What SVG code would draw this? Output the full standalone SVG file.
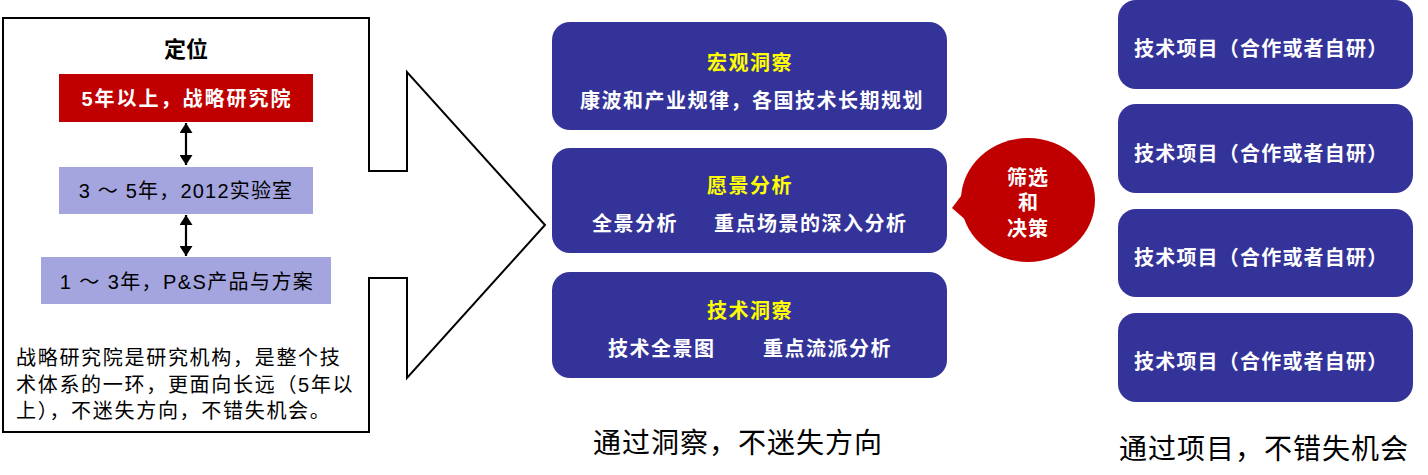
<svg xmlns="http://www.w3.org/2000/svg" width="1428" height="475" viewBox="0 0 1428 475">
<defs>
<style>
.t{font-family:"Liberation Sans","Noto Sans CJK SC",sans-serif;}
.box{fill:#333399;}
.ttl{fill:#FFFF00;font-size:20px;font-weight:bold;letter-spacing:1.5px;}
.sub{fill:#FFFFFF;font-size:20px;font-weight:bold;letter-spacing:1.5px;}
.rt{fill:#FFFFFF;font-size:20px;font-weight:bold;letter-spacing:1.2px;}
.cap{fill:#000000;font-size:28px;letter-spacing:1px;}
.lav{fill:#A4A4DF;}
</style>
<marker id="ah" viewBox="0 0 10 13" refX="10" refY="6.5" markerWidth="10" markerHeight="13" markerUnits="userSpaceOnUse" orient="auto-start-reverse">
<path d="M0,0 L10,6.5 L0,13 Z" fill="#000"/>
</marker>
</defs>

<g id="panel-left">
<path d="M3,18 H369 V171 H407 V72 L545,225 L407,378 V278 H369 V432 H3 Z" fill="#FFFFFF" stroke="#000000" stroke-width="2"/>
<text class="t" x="186" y="57" text-anchor="middle" font-size="22" font-weight="bold" fill="#000">定位</text>
</g>

<g id="node-5y">
<rect x="59" y="74" width="254" height="48" fill="#C00000"/>
<text class="t" x="187" y="105.6" text-anchor="middle" font-size="20" font-weight="bold" letter-spacing="2" fill="#FFFFFF">5年以上，战略研究院</text>
</g>
<g id="node-3-5y">
<rect class="lav" x="59" y="167" width="254" height="47"/>
<text class="t" x="186" y="197.6" text-anchor="middle" font-size="20" letter-spacing="1.2" fill="#000">3 ～ 5年，2012实验室</text>
</g>
<g id="node-1-3y">
<rect class="lav" x="41" y="257" width="290" height="47"/>
<text class="t" x="187" y="288.6" text-anchor="middle" font-size="20" letter-spacing="1.4" fill="#000">1 ～ 3年，P&amp;S产品与方案</text>
</g>
<g id="note">
<text class="t" font-size="20" letter-spacing="1.7" fill="#000">
<tspan x="16" y="365">战略研究院是研究机构，是整个技</tspan>
<tspan x="16" y="391.5">术体系的一环，更面向长远（5年以</tspan>
<tspan x="16" y="418">上），不迷失方向，不错失机会。</tspan>
</text>
</g>

<g id="connectors">
<line x1="186" y1="123" x2="186" y2="165" stroke="#000" stroke-width="2.2" marker-start="url(#ah)" marker-end="url(#ah)"/>
<line x1="186" y1="215" x2="186" y2="256" stroke="#000" stroke-width="2.2" marker-start="url(#ah)" marker-end="url(#ah)"/>
</g>

<g id="node-macro">
<rect class="box" x="552" y="22" width="395" height="108" rx="18"/>
<text class="t ttl" x="750" y="69.6" text-anchor="middle">宏观洞察</text>
<text class="t sub" x="752" y="107.6" text-anchor="middle" letter-spacing="2">康波和产业规律，各国技术长期规划</text>
</g>
<g id="node-vision">
<rect class="box" x="552" y="148" width="395" height="105" rx="18"/>
<text class="t ttl" x="750" y="192.6" text-anchor="middle">愿景分析</text>
<text class="t sub" x="592" y="230.6">全景分析</text>
<text class="t sub" x="714" y="230.6">重点场景的深入分析</text>
</g>
<g id="node-tech">
<rect class="box" x="552" y="272" width="395" height="106" rx="18"/>
<text class="t ttl" x="750" y="317.6" text-anchor="middle">技术洞察</text>
<text class="t sub" x="608" y="355.6">技术全景图</text>
<text class="t sub" x="763" y="355.6">重点流派分析</text>
</g>

<g id="node-decision">
<ellipse cx="1028" cy="200" rx="67" ry="62" fill="#C00000"/>
<polygon points="967,188 952,208 968,222" fill="#C00000"/>
<text class="t" x="1028" y="184.6" text-anchor="middle" font-size="20" font-weight="bold" letter-spacing="1" fill="#FFFFFF">筛选</text>
<text class="t" x="1028" y="209.6" text-anchor="middle" font-size="20" font-weight="bold" fill="#FFFFFF">和</text>
<text class="t" x="1028" y="235.6" text-anchor="middle" font-size="20" font-weight="bold" letter-spacing="1" fill="#FFFFFF">决策</text>
</g>

<g id="node-project-1">
<rect class="box" x="1118" y="0" width="295" height="89" rx="18"/>
<text class="t rt" x="1134" y="55.6">技术项目（合作或者自研）</text>
</g>
<g id="node-project-2">
<rect class="box" x="1118" y="104" width="295" height="89" rx="18"/>
<text class="t rt" x="1134" y="160.6">技术项目（合作或者自研）</text>
</g>
<g id="node-project-3">
<rect class="box" x="1118" y="209" width="295" height="88" rx="18"/>
<text class="t rt" x="1134" y="264.6">技术项目（合作或者自研）</text>
</g>
<g id="node-project-4">
<rect class="box" x="1118" y="313" width="295" height="89" rx="18"/>
<text class="t rt" x="1134" y="368.6">技术项目（合作或者自研）</text>
</g>

<g id="captions">
<text class="t cap" x="593" y="452.6">通过洞察，不迷失方向</text>
<text class="t cap" x="1119" y="458.6">通过项目，不错失机会</text>
</g>
</svg>
